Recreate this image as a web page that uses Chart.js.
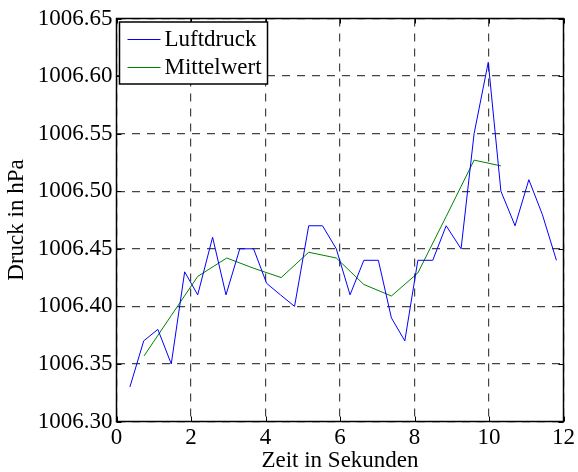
<!DOCTYPE html>
<html>
<head>
<meta charset="utf-8">
<script src="https://cdn.jsdelivr.net/npm/chart.js@4"></script>
<style>
  html, body { margin: 0; padding: 0; background: #fff; }
  #wrap { width: 578px; height: 472px; }
</style>
</head>
<body>
<div id="wrap"><canvas id="druckChart" width="578" height="472"></canvas></div>
<script>
// Messzeitpunkte und Werte
const luftZeit = [0.36, 0.73, 1.11, 1.47, 1.83, 2.18, 2.58, 2.94, 3.31, 3.68, 4.03, 4.40,
                  4.78, 5.16, 5.53, 5.90, 6.27, 6.64, 7.03, 7.38, 7.74, 8.09, 8.49, 8.85,
                  9.25, 9.60, 9.98, 10.32, 10.70, 11.07, 11.43, 11.81];
const luftdruck = [1006.33, 1006.37, 1006.38, 1006.35, 1006.43, 1006.41, 1006.46, 1006.41,
                   1006.45, 1006.45, 1006.42, 1006.41, 1006.40, 1006.47, 1006.47, 1006.45,
                   1006.41, 1006.44, 1006.44, 1006.39, 1006.37, 1006.44, 1006.44, 1006.47,
                   1006.45, 1006.55, 1006.612, 1006.50, 1006.47, 1006.51, 1006.48, 1006.44];

const mittelZeit = [0.74, 1.47, 2.18, 2.96, 3.69, 4.42, 5.16, 5.90, 6.64, 7.38, 8.09, 8.85, 9.60, 10.32];
const mittelwert = [1006.357, 1006.392, 1006.426, 1006.442, 1006.433, 1006.425, 1006.447,
                    1006.442, 1006.419, 1006.409, 1006.429, 1006.478, 1006.527, 1006.522];

const xTicks = [0, 2, 4, 6, 8, 10, 12];
const yTicks = [1006.30, 1006.35, 1006.40, 1006.45, 1006.50, 1006.55, 1006.60, 1006.65];

const serif = '"Liberation Serif", "Times New Roman", serif';

// Rahmen, Ticks nach innen und Legende wie in MATLAB
const frame = {
    id: 'frame',
    afterDraw(chart) {
        const ctx = chart.ctx;
        const a = chart.chartArea;
        const xs = chart.scales.x, ys = chart.scales.y;
        ctx.save();
        ctx.setLineDash([]);
        ctx.strokeStyle = '#000';
        ctx.lineWidth = 1.5;
        ctx.strokeRect(a.left, a.top, a.right - a.left, a.bottom - a.top);
        ctx.lineWidth = 1;
        ctx.beginPath();
        xTicks.forEach(v => {
            const px = Math.round(xs.getPixelForValue(v)) + 0.5;
            ctx.moveTo(px, a.bottom); ctx.lineTo(px, a.bottom - 5);
            ctx.moveTo(px, a.top); ctx.lineTo(px, a.top + 5);
        });
        yTicks.forEach(v => {
            const py = Math.round(ys.getPixelForValue(v)) + 0.5;
            ctx.moveTo(a.left, py); ctx.lineTo(a.left + 5, py);
            ctx.moveTo(a.right, py); ctx.lineTo(a.right - 5, py);
        });
        ctx.stroke();

        // Legende
        const lx = a.left + 3, ly = a.top + 3.5, lw = 148, lh = 62;
        ctx.fillStyle = '#fff';
        ctx.fillRect(lx, ly, lw, lh);
        ctx.lineWidth = 1.5;
        ctx.strokeRect(lx, ly, lw, lh);
        ctx.font = '23px ' + serif;
        ctx.textBaseline = 'middle';
        chart.data.datasets.forEach((ds, i) => {
            const yy = ly + 17 + i * 28;
            ctx.strokeStyle = ds.borderColor;
            ctx.lineWidth = 1;
            ctx.beginPath();
            ctx.moveTo(lx + 8, yy + 0.5);
            ctx.lineTo(lx + 41, yy + 0.5);
            ctx.stroke();
            ctx.fillStyle = '#000';
            ctx.fillText(ds.label, lx + 45, yy + 1);
        });
        ctx.restore();
    }
};

new Chart(document.getElementById('druckChart').getContext('2d'), {
    type: 'line',
    data: {
        datasets: [{
            label: 'Luftdruck',
            data: luftZeit.map((t, i) => ({ x: t, y: luftdruck[i] })),
            borderColor: '#0000ff',
            borderWidth: 1,
            pointRadius: 0,
            tension: 0,
            fill: false
        }, {
            label: 'Mittelwert',
            data: mittelZeit.map((t, i) => ({ x: t, y: mittelwert[i] })),
            borderColor: '#008000',
            borderWidth: 1,
            pointRadius: 0,
            tension: 0,
            fill: false
        }]
    },
    options: {
        responsive: false,
        animation: false,
        devicePixelRatio: 1,
        layout: { padding: { top: 18.5, right: 12, left: 0, bottom: 0 } },
        plugins: {
            legend: { display: false },
            tooltip: { enabled: false }
        },
        scales: {
            x: {
                type: 'linear',
                min: 0,
                max: 12,
                afterBuildTicks: s => { s.ticks = xTicks.map(v => ({ value: v })); },
                afterFit: s => { s.height = 50.5; },
                ticks: {
                    color: '#000',
                    font: { family: serif, size: 23 },
                    padding: 3,
                    maxRotation: 0,
                    callback: v => String(v)
                },
                grid: { color: '#444', lineWidth: 1.2, drawTicks: false },
                border: { display: false, dash: [8, 7] },
                title: {
                    display: true,
                    text: 'Zeit in Sekunden',
                    color: '#000',
                    font: { family: serif, size: 23, lineHeight: 1 },
                    padding: { top: 0, bottom: 0 }
                }
            },
            y: {
                type: 'linear',
                min: 1006.30,
                max: 1006.65,
                afterBuildTicks: s => { s.ticks = yTicks.map(v => ({ value: v })); },
                afterFit: s => { s.width = 116.5; },
                ticks: {
                    color: '#000',
                    font: { family: serif, size: 23 },
                    padding: 4,
                    callback: v => v.toFixed(2)
                },
                grid: { color: '#444', lineWidth: 1.2, drawTicks: false },
                border: { display: false, dash: [8, 7] },
                title: {
                    display: true,
                    text: 'Druck in hPa',
                    color: '#000',
                    font: { family: serif, size: 23, lineHeight: 1 },
                    padding: { top: 5, bottom: 0 }
                }
            }
        }
    },
    plugins: [frame]
});
</script>
</body>
</html>
